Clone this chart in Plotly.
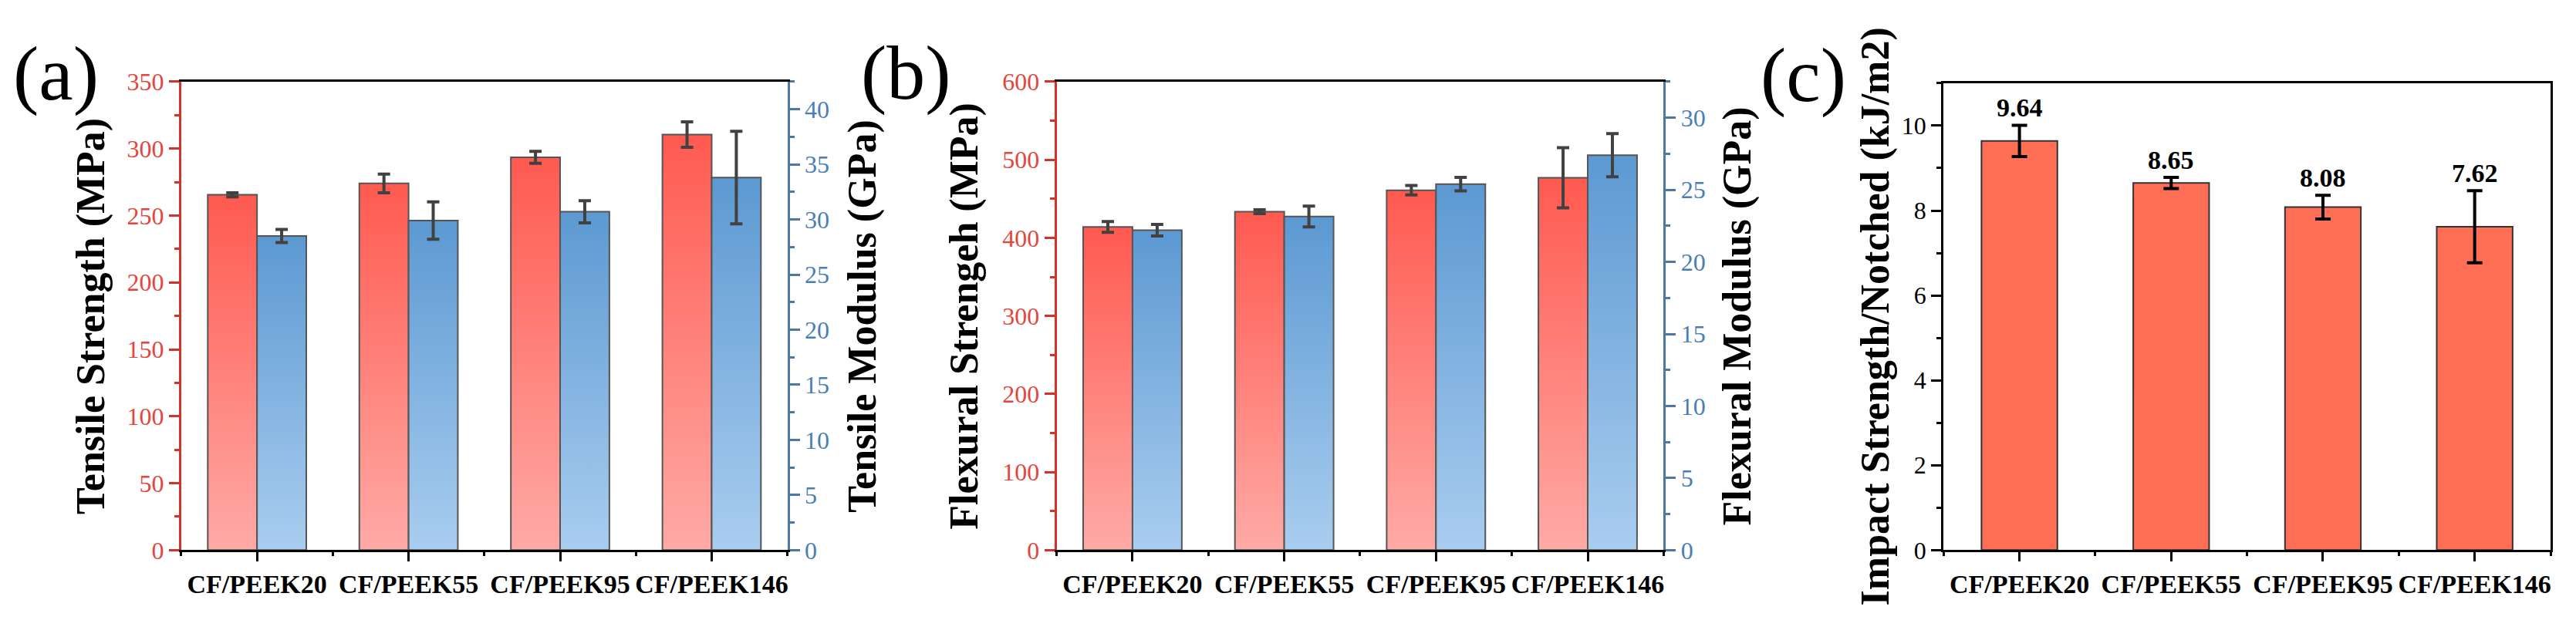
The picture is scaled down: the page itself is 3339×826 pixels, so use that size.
import plotly.graph_objects as go

# ---------------- data ----------------
categories = ["CF/PEEK20", "CF/PEEK55", "CF/PEEK95", "CF/PEEK146"]

tensile_strength = [265.5, 274.0, 293.5, 310.5]
tensile_strength_err = [1.5, 7.0, 4.5, 9.5]
tensile_modulus = [28.5, 29.9, 30.7, 33.8]
tensile_modulus_err = [0.6, 1.7, 1.0, 4.2]

flexural_strength = [414.0, 433.5, 461.0, 477.0]
flexural_strength_err = [7.0, 2.5, 6.0, 38.5]
flexural_modulus = [22.2, 23.15, 25.4, 27.4]
flexural_modulus_err = [0.4, 0.72, 0.47, 1.5]

impact_strength = [9.64, 8.65, 8.08, 7.62]
impact_strength_err = [0.37, 0.13, 0.28, 0.85]

ticks_tensile_strength = [0, 50, 100, 150, 200, 250, 300, 350]
ticks_tensile_modulus = [0, 5, 10, 15, 20, 25, 30, 35, 40]
ticks_flexural_strength = [0, 100, 200, 300, 400, 500, 600]
ticks_flexural_modulus = [0, 5, 10, 15, 20, 25, 30]
ticks_impact = [0, 2, 4, 6, 8, 10]

# ---------------- style ----------------
W, H = 3339, 826
FONT = "Liberation Serif"
RED_LINE = "#D4322B"
RED_TXT = "#E2463C"
BLUE_LINE = "#4D78A6"
BLUE_TXT = "#4A7EB6"
RED_GRAD = [[0, "#FFAAA6"], [1, "#FF5A50"]]
BLUE_GRAD = [[0, "#A9CDEF"], [1, "#5C99D2"]]
BAR_W = 0.325
EDGE = "#555555"
ERR_COL = "#414141"

def px(xp):
    return xp / W

def py(yp):
    return 1 - yp / H

fig = go.Figure()

def gradient_bars(values, errs, offset, xa, ya, grad):
    for i, v in enumerate(values):
        xc = i + offset
        fig.add_trace(go.Scatter(
            x=[xc - BAR_W / 2, xc + BAR_W / 2, xc + BAR_W / 2, xc - BAR_W / 2, xc - BAR_W / 2],
            y=[0, 0, v, v, 0],
            mode="lines", fill="toself",
            fillgradient=dict(type="vertical", colorscale=grad),
            line=dict(color=EDGE, width=2),
            xaxis=xa, yaxis=ya, showlegend=False, hoverinfo="skip"))
    fig.add_trace(go.Scatter(
        x=[i + offset for i in range(len(values))], y=values,
        mode="markers", marker=dict(size=1, color="rgba(0,0,0,0)"),
        error_y=dict(type="data", array=errs, visible=True, color=ERR_COL,
                     thickness=4, width=8),
        xaxis=xa, yaxis=ya, showlegend=False, hoverinfo="skip"))

# panel (a)
gradient_bars(tensile_strength, tensile_strength_err, -BAR_W / 2, "x", "y", RED_GRAD)
gradient_bars(tensile_modulus, tensile_modulus_err, BAR_W / 2, "x", "y2", BLUE_GRAD)
# panel (b)
gradient_bars(flexural_strength, flexural_strength_err, -BAR_W / 2, "x2", "y3", RED_GRAD)
gradient_bars(flexural_modulus, flexural_modulus_err, BAR_W / 2, "x2", "y4", BLUE_GRAD)
# panel (c)
fig.add_trace(go.Bar(
    x=list(range(len(categories))), y=impact_strength, width=0.5,
    marker=dict(color="#FF6F55", line=dict(color="#333333", width=2)),
    error_y=dict(type="data", array=impact_strength_err, visible=True,
                 color="black", thickness=4, width=10),
    xaxis="x3", yaxis="y5", showlegend=False))

# ---------------- axes ----------------
Y_DOM = [py(727), py(92)]
Y_DOM_C = [py(727), py(94)]
DOM_A = [px(235), px(1021)]
DOM_B = [px(1370), px(2157)]
DOM_C = [px(2520), px(3307)]

def xaxis_def(domain, anchor):
    return dict(
        domain=domain, anchor=anchor, range=[-0.5, 3.5],
        tickmode="array", tickvals=list(range(len(categories))), ticktext=categories,
        ticks="outside", ticklen=12, tickwidth=3, tickcolor="black",
        showline=True, linecolor="black", linewidth=3, mirror=True,
        showgrid=False, zeroline=False,
        tickfont=dict(family=FONT, size=34, color="black", weight="bold"),
        minor=dict(tickmode="array", tickvals=[-0.5, 0.5, 1.5, 2.5, 3.5],
                   ticks="outside", ticklen=5, tickwidth=3, tickcolor="black"))

def yaxis_def(domain, anchor, rng, tickvals, minor_dt, line_col, txt_col, side="left",
              overlaying=None, mirror=False):
    d = dict(
        anchor=anchor, range=rng, side=side,
        tickmode="array", tickvals=tickvals,
        ticks="outside", ticklen=13, tickwidth=3, tickcolor=line_col,
        showline=True, linecolor=line_col, linewidth=3, mirror=mirror,
        showgrid=False, zeroline=False,
        tickfont=dict(family=FONT, size=32, color=txt_col),
        minor=dict(tickmode="linear", tick0=0, dtick=minor_dt, ticks="outside",
                   ticklen=6, tickwidth=3, tickcolor=line_col))
    if overlaying:
        d["overlaying"] = overlaying
    else:
        d["domain"] = domain
    return d

fig.update_layout(
    width=W, height=H, margin=dict(l=0, r=0, t=0, b=0),
    paper_bgcolor="white", plot_bgcolor="white",
    showlegend=False,
    xaxis=xaxis_def(DOM_A, "y"),
    yaxis=yaxis_def(Y_DOM, "x", [0, 350], ticks_tensile_strength, 25, RED_LINE, RED_TXT),
    yaxis2=yaxis_def(Y_DOM, "x", [0, 42.5], ticks_tensile_modulus, 2.5, BLUE_LINE, BLUE_TXT,
                     side="right", overlaying="y"),
    xaxis2=xaxis_def(DOM_B, "y3"),
    yaxis3=yaxis_def(Y_DOM, "x2", [0, 600], ticks_flexural_strength, 50, RED_LINE, RED_TXT),
    yaxis4=yaxis_def(Y_DOM, "x2", [0, 32.5], ticks_flexural_modulus, 2.5, BLUE_LINE, BLUE_TXT,
                     side="right", overlaying="y3"),
    xaxis3=xaxis_def(DOM_C, "y5"),
    yaxis5=yaxis_def(Y_DOM_C, "x3", [0, 11], ticks_impact, 1, "black", "black", mirror=True),
)

# ---------------- text ----------------
ann = []
def title(text, xc):
    ann.append(dict(text=f"<b>{text}</b>", x=px(xc), y=py(410), xref="paper", yref="paper",
                    xanchor="center", yanchor="middle", textangle=-90, showarrow=False,
                    font=dict(family=FONT, size=52, color="black")))

title("Tensile Strength (MPa)", 118)
title("Tensile Modulus (GPa)", 1118)
title("Flexural Strengeh (MPa)", 1251)
title("Flexural Modulus (GPa)", 2253)
title("Impact Strength/Notched (kJ/m2)", 2432)

for lab, xc, yc in [("(a)", 73, 81), ("(b)", 1175, 80), ("(c)", 2338, 83)]:
    ann.append(dict(text=lab, x=px(xc), y=py(yc), xref="paper", yref="paper",
                    xanchor="center", yanchor="middle", showarrow=False,
                    font=dict(family=FONT, size=100, color="black")))

for i, (v, e) in enumerate(zip(impact_strength, impact_strength_err)):
    ann.append(dict(text=f"<b>{v:.2f}</b>", x=i, y=v + e, xref="x3", yref="y5",
                    xanchor="center", yanchor="bottom", yshift=2, showarrow=False,
                    font=dict(family=FONT, size=34, color="black")))

fig.update_layout(annotations=ann)
fig.write_html("out.html")
